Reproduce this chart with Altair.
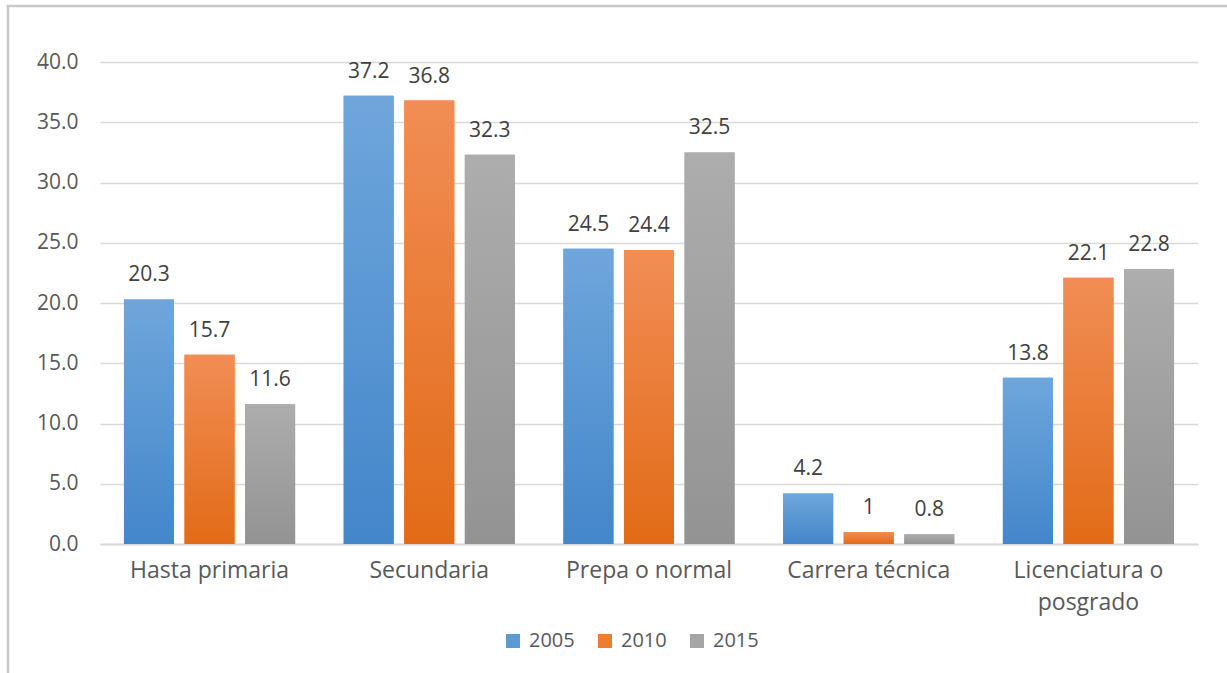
import altair as alt
import pandas as pd

categories = ["Hasta primaria", "Secundaria", "Prepa o normal", "Carrera técnica", "Licenciatura o posgrado"]
years = ["2005", "2010", "2015"]
v2005 = [20.3, 37.2, 24.5, 4.2, 13.8]
v2010 = [15.7, 36.8, 24.4, 1.0, 22.1]
v2015 = [11.6, 32.3, 32.5, 0.8, 22.8]
y_ticks = [0, 5, 10, 15, 20, 25, 30, 35, 40]

solid = ["#5B9BD5", "#ED7D31", "#A5A5A5"]
grad_top = ["#6FA6DC", "#F18D55", "#ADADAD"]
grad_bot = ["#4386CA", "#E26B17", "#939393"]

rows = []
for yr, vals in zip(years, [v2005, v2010, v2015]):
    for c, v in zip(categories, vals):
        rows.append({"cat": c, "year": yr, "value": v})
df = pd.DataFrame(rows)

FONT = "Open Sans"

x_enc = alt.X(
    "cat:N", sort=categories,
    scale=alt.Scale(paddingInner=0.221, paddingOuter=0.109),
    axis=alt.Axis(
        title=None, labelAngle=0, ticks=False, domainColor="#D9D9D9", domainWidth=2,
        labelFontSize=23, labelColor="#595959", labelFont=FONT, labelPadding=15,
        labelLineHeight=32,
        labelExpr="datum.label == 'Licenciatura o posgrado' ? ['Licenciatura o', 'posgrado'] : datum.label",
    ),
)
y_enc = alt.Y(
    "value:Q",
    scale=alt.Scale(domain=[0, 40], nice=False),
    axis=alt.Axis(
        title=None, values=y_ticks, format=".1f", domain=False, ticks=False,
        gridColor="#D9D9D9", gridWidth=1.3, labelFontSize=21, labelColor="#595959",
        labelFont=FONT, labelPadding=22,
    ),
)
xo_enc = alt.XOffset("year:N", sort=years, scale=alt.Scale(paddingInner=0.174, paddingOuter=0))

base = alt.Chart(df)

legend_bars = base.mark_bar().encode(
    x=x_enc, y=y_enc, xOffset=xo_enc,
    color=alt.Color(
        "year:N",
        scale=alt.Scale(domain=years, range=solid),
        legend=alt.Legend(
            title=None, orient="none", direction="horizontal", columns=3,
            legendX=403, legendY=569, symbolType="square", symbolSize=196,
            symbolStrokeWidth=0, labelFontSize=20, labelColor="#595959",
            labelFont=FONT, labelOffset=6, columnPadding=20,
        ),
    ),
)

layers = [legend_bars]
for i, yr in enumerate(years):
    g = alt.Gradient(
        gradient="linear",
        stops=[alt.GradientStop(color=grad_top[i], offset=0),
               alt.GradientStop(color=grad_bot[i], offset=1)],
        x1=0, x2=0, y1=0, y2=1,
    )
    layers.append(
        base.transform_filter(alt.datum.year == yr)
        .mark_bar(color=g)
        .encode(x=x_enc, y=y_enc, xOffset=xo_enc)
    )

labels = base.mark_text(
    baseline="alphabetic", dy=-18, fontSize=21, font=FONT, color="#404040"
).encode(
    x=x_enc, y=y_enc, xOffset=xo_enc,
    text=alt.Text("value:Q", format=".1~f"),
)
layers.append(labels)

frame = alt.Chart(pd.DataFrame({"k": [0]})).mark_rect(
    fillOpacity=0, stroke="#C8C8C8", strokeWidth=2.5
).encode(
    x=alt.value(-92), x2=alt.value(1160), y=alt.value(-56), y2=alt.value(700)
)
layers = [frame] + layers

chart = alt.layer(*layers).properties(
    width=1098, height=482,
    background="white",
    autosize=alt.AutoSizeParams(type="none"),
    padding={"left": 100, "top": 62, "right": 29, "bottom": 129},
).configure_view(stroke=None)

chart.save("out.html", embed_options={"renderer": "svg", "actions": False})
